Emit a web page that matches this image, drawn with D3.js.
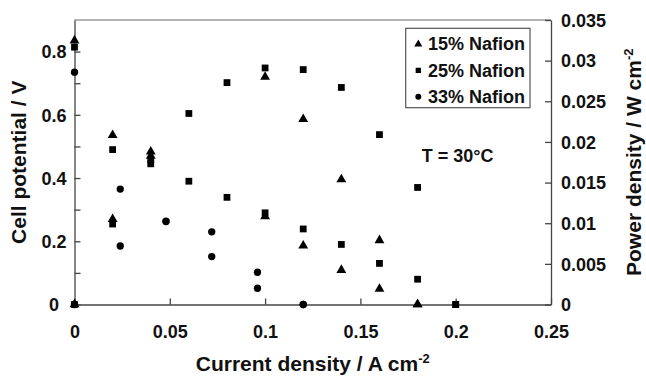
<!DOCTYPE html>
<html>
<head>
<meta charset="utf-8">
<script src="https://cdn.jsdelivr.net/npm/d3@7"></script>
<style>
    body { margin: 0; background: #fff; }
    text { font-family: "Liberation Sans", Arial, Helvetica, sans-serif; font-weight: bold; fill: #111; }
</style>
</head>
<body>
<div id="chart"></div>
<script>
// Data
const current15 = [0, 0.02, 0.04, 0.1, 0.12, 0.14, 0.16, 0.18];
const volt15 = [0.835, 0.536, 0.47, 0.279, 0.186, 0.109, 0.049, 0];
const power15 = [0, 0.0105, 0.0188, 0.028, 0.0228, 0.0154, 0.0079, 0];

const current25 = [0, 0.02, 0.04, 0.06, 0.08, 0.1, 0.12, 0.14, 0.16, 0.18, 0.2];
const volt25 = [0.814, 0.49, 0.445, 0.39, 0.339, 0.29, 0.239, 0.19, 0.13, 0.08, 0];
const power25 = [0, 0.0099, 0.0178, 0.0235, 0.0273, 0.0291, 0.0289, 0.0267, 0.0209, 0.0144, 0];

const current33 = [0, 0.024, 0.048, 0.072, 0.096, 0.12];
const volt33 = [0.735, 0.365, 0.264, 0.23, 0.102, 0];
const power33 = [0, 0.0072, 0.0102, 0.0059, 0.002, 0];

const seriesNames = ["15% Nafion", "25% Nafion", "33% Nafion"];

// Ticks
const xTicks = [0, 0.05, 0.1, 0.15, 0.2, 0.25];
const xTickLabels = ["0", "0.05", "0.1", "0.15", "0.2", "0.25"];
const yLeftTicks = [0, 0.1, 0.2, 0.3, 0.4, 0.5, 0.6, 0.7, 0.8];
const yLeftTickLabels = ["0", "", "0.2", "", "0.4", "", "0.6", "", "0.8"];
const yRightTicks = [0, 0.005, 0.01, 0.015, 0.02, 0.025, 0.03, 0.035];
const yRightTickLabels = ["0", "0.005", "0.01", "0.015", "0.02", "0.025", "0.03", "0.035"];

// Dimensions
const W = 646, H = 376;
const margin = {top: 20, right: 95, bottom: 71.5, left: 74.5};
const width = W - margin.left - margin.right;
const height = H - margin.top - margin.bottom;

const svg = d3.select("#chart")
    .append("svg")
    .attr("width", W)
    .attr("height", H);

const g = svg.append("g")
    .attr("transform", `translate(${margin.left},${margin.top})`);

// Scales
const xScale = d3.scaleLinear().domain([0, 0.25]).range([0, width]);
const yLeft = d3.scaleLinear().domain([0, 0.9]).range([height, 0]);
const yRight = d3.scaleLinear().domain([0, 0.035]).range([height, 0]);

const axisColor = "#444";

// Top border
g.append("line")
    .attr("x1", 0).attr("x2", width)
    .attr("y1", 0).attr("y2", 0)
    .attr("stroke", "#999")
    .attr("stroke-width", 1.3);

// X axis (ticks pointing inside)
const xAxis = g.append("g")
    .attr("transform", `translate(0,${height})`)
    .call(d3.axisBottom(xScale)
        .tickValues(xTicks)
        .tickSizeInner(-6)
        .tickSizeOuter(0)
        .tickFormat((d, i) => xTickLabels[i]));
xAxis.selectAll("text")
    .attr("y", 21)
    .attr("font-size", 18);

// Left axis
const leftAxis = g.append("g")
    .call(d3.axisLeft(yLeft)
        .tickValues(yLeftTicks)
        .tickSizeInner(-6)
        .tickSizeOuter(0)
        .tickFormat((d, i) => yLeftTickLabels[i]));
leftAxis.selectAll("text")
    .attr("x", -20.5)
    .attr("text-anchor", "middle")
    .attr("dy", "0.35em")
    .attr("font-size", 18);

// Right axis
const rightAxis = g.append("g")
    .attr("transform", `translate(${width},0)`)
    .call(d3.axisRight(yRight)
        .tickValues(yRightTicks)
        .tickSizeInner(-6)
        .tickSizeOuter(0)
        .tickFormat((d, i) => yRightTickLabels[i]));
rightAxis.selectAll("text")
    .attr("x", 10)
    .attr("dy", "0.35em")
    .attr("font-size", 18);

g.selectAll(".domain, .tick line")
    .attr("stroke", axisColor)
    .attr("stroke-width", 1.3);
g.selectAll(".tick text").attr("fill", "#111");
// drop the top tick mark of right axis (it sits on the border)
g.selectAll("text").attr("font-family", null);

// Axis titles
const xTitle = svg.append("text")
    .attr("x", margin.left + width / 2)
    .attr("y", 371)
    .attr("text-anchor", "middle")
    .attr("font-size", 21);
xTitle.append("tspan").text("Current density / A cm");
xTitle.append("tspan").attr("font-size", 13).attr("dy", -8).text("-2");

svg.append("text")
    .attr("transform", `translate(25.5,${margin.top + height / 2}) rotate(-90)`)
    .attr("text-anchor", "middle")
    .attr("font-size", 21)
    .text("Cell potential / V");

const rTitle = svg.append("text")
    .attr("transform", `translate(641,${margin.top + height / 2}) rotate(-90)`)
    .attr("text-anchor", "middle")
    .attr("font-size", 21);
rTitle.append("tspan").text("Power density / W cm");
rTitle.append("tspan").attr("font-size", 13).attr("dy", -8).text("-2");

// Markers
const shapes = [d3.symbolTriangle, d3.symbolSquare, d3.symbolCircle];
const sizes = [42, 46, 42];

function drawSeries(cur, vals, scale, k) {
    g.append("g")
        .selectAll("path")
        .data(cur.map((c, i) => ({c: c, v: vals[i]})))
        .enter()
        .append("path")
        .attr("transform", d => `translate(${xScale(d.c)},${scale(d.v)})`)
        .attr("d", d3.symbol().type(shapes[k]).size(sizes[k]))
        .attr("fill", "#000");
}

// Power first, then potential
drawSeries(current33, power33, yRight, 2);
drawSeries(current33, volt33, yLeft, 2);
drawSeries(current15, power15, yRight, 0);
drawSeries(current15, volt15, yLeft, 0);
drawSeries(current25, power25, yRight, 1);
drawSeries(current25, volt25, yLeft, 1);

// Legend
const legend = svg.append("g").attr("transform", "translate(405.7,28.3)");
legend.append("rect")
    .attr("width", 124.3)
    .attr("height", 79.4)
    .attr("fill", "#fff")
    .attr("stroke", "#555")
    .attr("stroke-width", 1.2);

seriesNames.forEach((name, i) => {
    const rowY = 15.8 + i * 26.3;
    legend.append("path")
        .attr("transform", `translate(12.6,${rowY})`)
        .attr("d", d3.symbol().type(shapes[i]).size(28))
        .attr("fill", "#000");
    legend.append("text")
        .attr("x", 22.3)
        .attr("y", rowY + 6.2)
        .attr("font-size", 18)
        .text(name);
});

// Temperature annotation
svg.append("text")
    .attr("x", 421.7)
    .attr("y", 162.3)
    .attr("font-size", 18)
    .text("T = 30°C");
</script>
</body>
</html>
